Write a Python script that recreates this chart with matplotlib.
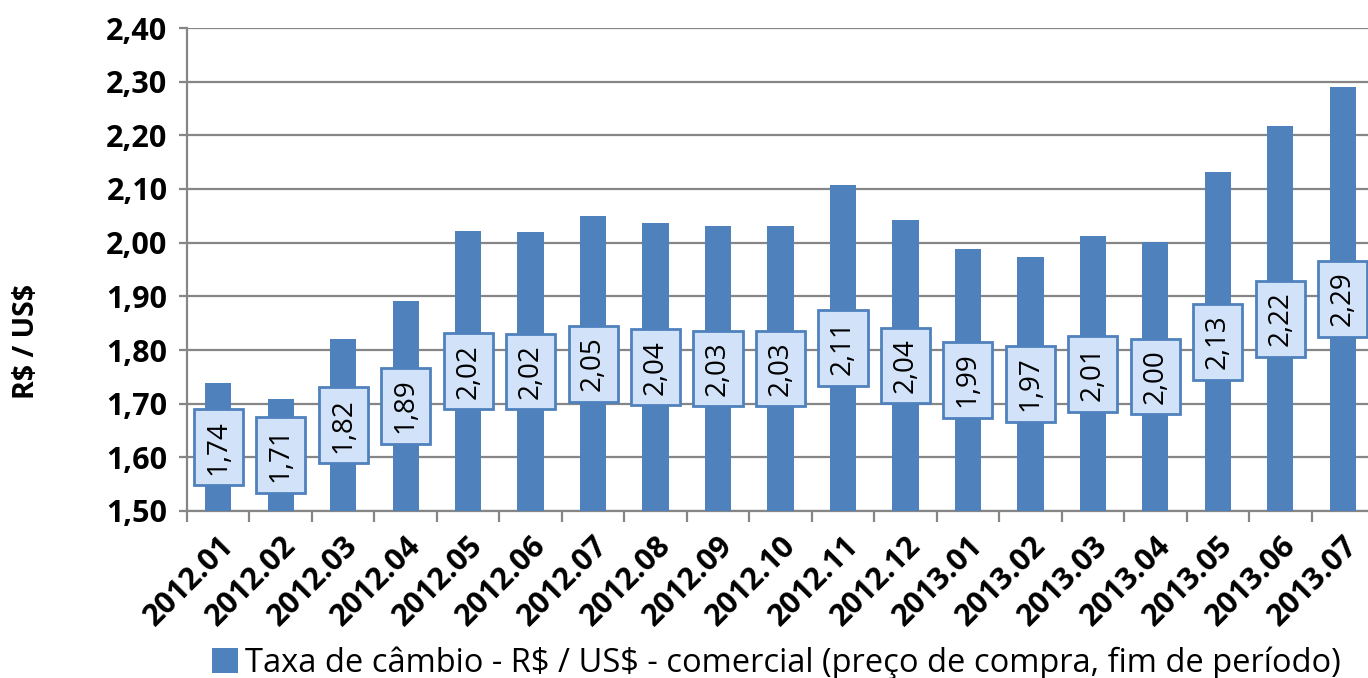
import matplotlib.pyplot as plt
import numpy as np

# Taxa de câmbio mensal (fim de período)
meses = ["2012.01", "2012.02", "2012.03", "2012.04", "2012.05", "2012.06", "2012.07",
         "2012.08", "2012.09", "2012.10", "2012.11", "2012.12", "2013.01", "2013.02",
         "2013.03", "2013.04", "2013.05", "2013.06", "2013.07"]
taxa = [1.738, 1.709, 1.820, 1.891, 2.021, 2.020, 2.049, 2.036, 2.031, 2.031, 2.107,
        2.042, 1.988, 1.973, 2.012, 2.001, 2.131, 2.217, 2.290]

plt.rcParams['font.family'] = ['Open Sans', 'DejaVu Sans']
plt.rcParams['text.parse_math'] = False

azul = '#4F81BD'
cinza = '#868686'

fig = plt.figure(figsize=(13.68, 6.78), dpi=100)
ax = fig.add_axes([187/1368, 1-511/678, (1374-187)/1368, (511-28)/678])

x = np.arange(len(meses))
bars = ax.bar(x, taxa, width=0.42, bottom=0, color=azul, zorder=3,
              label="Taxa de câmbio - R$ / US$ - comercial (preço de compra, fim de período)")

ax.set_ylim(1.50, 2.40)
ax.set_xlim(-0.5, len(meses) - 0.5)
ax.set_yticks(np.arange(1.5, 2.41, 0.1))
ax.set_yticklabels([f"{v:.2f}".replace('.', ',') for v in np.arange(1.5, 2.41, 0.1)],
                   fontsize=22, fontweight='bold')
ax.yaxis.grid(True, color=cinza, linewidth=1.6, zorder=0)

# rótulos do eixo x com marcas entre as categorias
ax.set_xticks(x)
ax.set_xticklabels(meses, rotation=45, ha='right', rotation_mode='anchor',
                   fontsize=22, fontweight='bold')
ax.tick_params(axis='x', length=0, pad=14)
ax.set_xticks(np.arange(-0.5, len(meses), 1), minor=True)
ax.tick_params(axis='x', which='minor', length=8, width=1.6, color=cinza)
ax.tick_params(axis='y', length=6, width=1.6, color=cinza, pad=8)

for s in ['top', 'right']:
    ax.spines[s].set_visible(False)
for s in ['left', 'bottom']:
    ax.spines[s].set_color(cinza)
    ax.spines[s].set_linewidth(1.6)

# caixas com os valores no meio das barras
for xi, v in zip(x, taxa):
    ax.text(xi, (1.50 + v) / 2, f"{v:.2f}".replace('.', ','), rotation=90,
            ha='center', va='center', fontsize=20, zorder=5,
            bbox=dict(boxstyle='square,pad=0.38', facecolor='#D2E2F8',
                      edgecolor=azul, linewidth=2))

fig.text(27/1368, 1-341/678, "R$ / US$", rotation=90, ha='center', va='center',
         fontsize=20.5, fontweight='bold')

fig.legend(loc='center left', bbox_to_anchor=(212/1368, 1-663/678), frameon=False,
           fontsize=23.5, handlelength=0.8, handleheight=0.8, handletextpad=0.2,
           borderpad=0, borderaxespad=0)

fig.savefig('out.png', dpi=100)
